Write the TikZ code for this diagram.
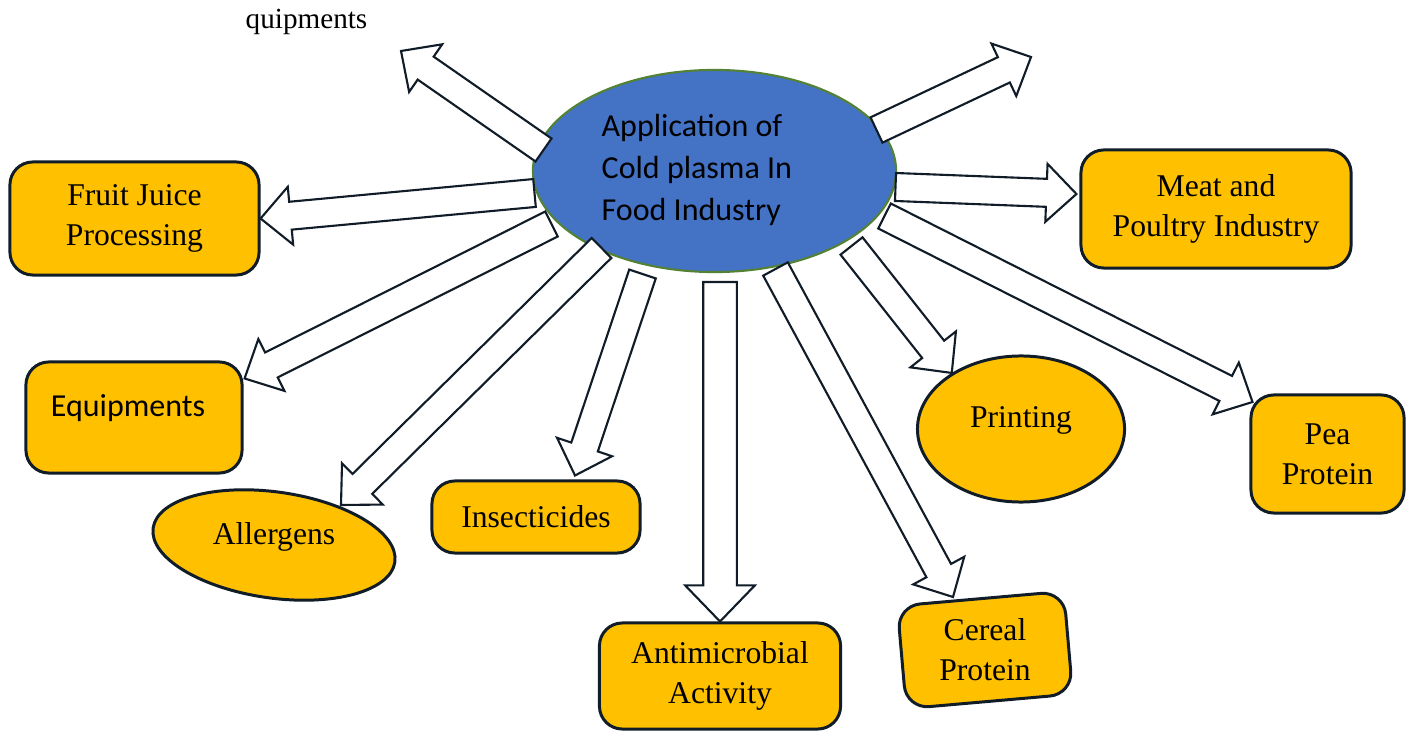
\documentclass[tikz,border=0pt]{standalone}
\usepackage{fontspec}
\setmainfont{Liberation Serif}
\newfontfamily\calfont{Carlito}
\usetikzlibrary{shapes.geometric,calc}

\definecolor{gold}{RGB}{255,192,0}
\definecolor{plasmablue}{RGB}{68,114,196}
\definecolor{rimgreen}{RGB}{84,130,53}
\definecolor{navyline}{RGB}{16,28,40}

\tikzset{
  topic/.style={draw=navyline,line width=0.85pt,fill=gold,rounded corners=6.5pt,align=center,inner sep=0pt},
  topicoval/.style={ellipse,draw=navyline,line width=0.85pt,fill=gold,inner sep=0pt},
  blockarr/.style={draw=navyline,line width=0.6pt,fill=white,line join=miter},
  caltext/.style={font=\calfont\fontsize{9.1}{12}\selectfont}
}

% block arrow from #2 (tail) to #3 (tip), #1 = size factor
\newcommand{\blockarrow}[3][1]{%
  \pgfmathsetmacro\aws{#1*3.98}\pgfmathsetmacro\awh{#1*8.25}\pgfmathsetmacro\ahl{#1*8.54}%
  \path (#2) coordinate (ta) (#3) coordinate (tb);
  \path ($(tb)!\ahl pt!(ta)$) coordinate (hb);
  \draw[blockarr] ($(ta)!\aws pt!90:(tb)$) -- ($(hb)!\aws pt!90:(tb)$) -- ($(hb)!\awh pt!90:(tb)$)
    -- (tb) -- ($(hb)!\awh pt!-90:(tb)$) -- ($(hb)!\aws pt!-90:(tb)$) -- ($(ta)!\aws pt!-90:(tb)$) -- cycle;
}

\begin{document}
\begin{tikzpicture}[x=0.01cm,y=-0.01cm,font=\fontsize{9}{11.4}\selectfont]
  \useasboundingbox (0,0) rectangle (1407,731);

  % centre
  \node[ellipse,draw=rimgreen,line width=0.6pt,fill=plasmablue,minimum width=3.63cm,minimum height=2.02cm,inner sep=0pt] (cp) at (714.5,171) {};
  \node[caltext,anchor=west,align=left,inner sep=0pt] (cptext) at (601,170) {Application of\\Cold plasma In\\Food Industry};

  % applications
  \node[topic,minimum width=2.49cm,minimum height=1.13cm] (fruit) at (134.5,218.5) {Fruit Juice\\Processing};
  \node[topic,minimum width=2.70cm,minimum height=1.18cm] (meat) at (1216,209) {Meat and\\Poultry Industry};
  \node[topic,minimum width=2.16cm,minimum height=1.11cm] (equip) at (134,417.5) {};
  \node[caltext] (equiptext) at (128,408) {Equipments};
  \node[topicoval,minimum width=2.44cm,minimum height=1.06cm,rotate=-8] (allerg) at (274,545) {};
  \node (allergtext) at (274,537) {Allergens};
  \node[topic,minimum width=2.08cm,minimum height=0.72cm] (insect) at (536,517) {Insecticides};
  \node[topic,minimum width=2.41cm,minimum height=1.06cm] (anti) at (720,676) {Antimicrobial\\Activity};
  \node[topic,minimum width=1.67cm,minimum height=1.03cm,rotate=5] (cereal) at (985,650) {};
  \node[align=center] (cerealtext) at (cereal.center) {Cereal\\Protein};
  \node[topicoval,minimum width=2.07cm,minimum height=1.46cm] (print) at (1021,429) {};
  \node (printtext) at (1021,420) {Printing};
  \node[topic,minimum width=1.53cm,minimum height=1.18cm] (pea) at (1327.5,454) {Pea\\Protein};
  \node[anchor=base west,inner sep=0pt,font=\fontsize{8.3}{10}\selectfont] (qtext) at (245,29) {quipments};

  \coordinate (ulend) at (401,51);
  \coordinate (urend) at (1031,57);

  % arrows
  \blockarrow{$(cp.center)+(-171,-21)$}{ulend}
  \blockarrow{$(cp.center)+(162,-41)$}{urend}
  \blockarrow{$(cp.center)+(181,16)$}{$(meat.west)+(-3,-15)$}
  \blockarrow{$(cp.center)+(170,45)$}{$(pea.center)+(-75,-52)$}
  \blockarrow{$(cp.center)+(137,75)$}{print.141}
  \blockarrow{$(cp.center)+(61,98)$}{$(cereal.center)+(-32,-53)$}
  \blockarrow[1.2]{$(cp.center)+(5.5,111)$}{anti.north}
  \blockarrow{$(cp.center)+(-72,103)$}{$(insect.north)+(39,-4)$}
  \blockarrow{$(cp.center)+(-113,77)$}{$(allerg.center)+(67,-40)$}
  \blockarrow{$(cp.center)+(-163,53)$}{$(equip.north east)+(1,18)$}
  \blockarrow{$(cp.center)+(-180,22)$}{fruit.east}
\end{tikzpicture}
\end{document}
